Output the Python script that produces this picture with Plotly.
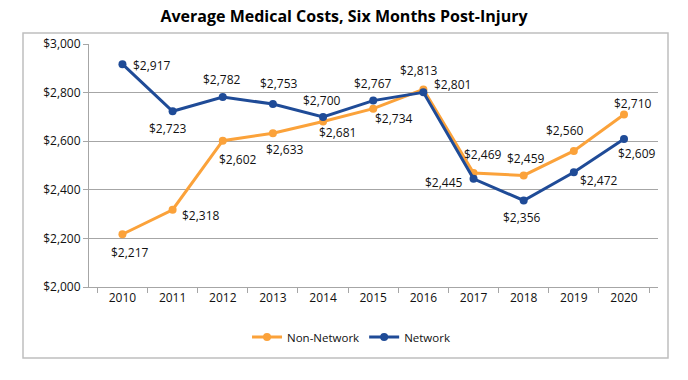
import plotly.graph_objects as go

years = ["2010", "2011", "2012", "2013", "2014", "2015", "2016", "2017", "2018", "2019", "2020"]
non_network = [2217, 2318, 2602, 2633, 2681, 2734, 2813, 2469, 2459, 2560, 2710]
network = [2917, 2723, 2782, 2753, 2700, 2767, 2801, 2445, 2356, 2472, 2609]

# label offsets in pixels (dx right, dy down) relative to each marker
non_network_off = [(8, 18), (28, 6), (15, 19), (12, 16), (14, 11), (21, 10),
                   (-4, -19), (9, -19), (2, -17), (-9, -20), (9, -11)]
network_off = [(30, 1), (-5, 17), (-1, -17), (6, -21), (-1, -16), (0, -17),
               (29, -8), (-30, 4), (-2, 17), (25, 8), (13, 14)]

ORANGE = "#FBA23A"
NAVY = "#1F4B97"
FONT = "Open Sans"

def fmt(v):
    return "${:,}".format(v)

fig = go.Figure()
fig.add_trace(go.Scatter(
    x=years, y=non_network, name="Non-Network", mode="lines+markers",
    line=dict(color=ORANGE, width=3), marker=dict(color=ORANGE, size=8),
    cliponaxis=False,
))
fig.add_trace(go.Scatter(
    x=years, y=network, name="Network", mode="lines+markers",
    line=dict(color=NAVY, width=3), marker=dict(color=NAVY, size=8),
    cliponaxis=False,
))

for series, offs in ((non_network, non_network_off), (network, network_off)):
    for i, (v, (dx, dy)) in enumerate(zip(series, offs)):
        fig.add_annotation(x=i, y=v, text=fmt(v), showarrow=False,
                           xanchor="center", yanchor="middle",
                           xshift=dx, yshift=-dy,
                           font=dict(family=FONT, size=12, color="#111111"))

fig.update_layout(
    width=688, height=380,
    margin=dict(l=89, r=30, t=44, b=93, autoexpand=False),
    paper_bgcolor="white", plot_bgcolor="white",
    font=dict(family=FONT, size=12, color="#111111"),
    title=dict(text="<b>Average Medical Costs, Six Months Post-Injury</b>",
               x=0.5, xanchor="center", y=1 - 16 / 380, yanchor="middle",
               font=dict(family=FONT, size=16, color="#000000")),
    showlegend=True,
    legend=dict(orientation="h", x=0.4605, xanchor="center", y=(287 - 337) / 243, yanchor="middle",
                font=dict(family=FONT, size=11.5, color="#111111"),
                traceorder="normal"),
    xaxis=dict(type="category", categoryorder="array", categoryarray=years,
               showgrid=False, showline=True, linecolor="#A6A6A6", linewidth=1,
               ticks="outside", tickson="boundaries", ticklen=5, tickcolor="#A6A6A6",
               tickfont=dict(family=FONT, size=12, color="#111111"), fixedrange=True),
    yaxis=dict(range=[2000, 3000], dtick=200, tickprefix="$", tickformat=",",
               showgrid=True, gridcolor="#A6A6A6", gridwidth=1,
               showline=True, linecolor="#A6A6A6", linewidth=1,
               ticks="outside", ticklen=5, tickcolor="#A6A6A6",
               tickfont=dict(family=FONT, size=12, color="#111111"), zeroline=False),
)

fig.add_shape(type="rect", xref="paper", yref="paper",
              x0=(23 - 89) / 569, x1=(668 - 89) / 569,
              y0=(287 - 358) / 243, y1=(287 - 33) / 243,
              line=dict(color="#BFBFBF", width=1.5), fillcolor="rgba(0,0,0,0)", layer="below")

fig.write_html("out.html", config={"displayModeBar": False},
               post_script="document.body.style.margin='0';")
